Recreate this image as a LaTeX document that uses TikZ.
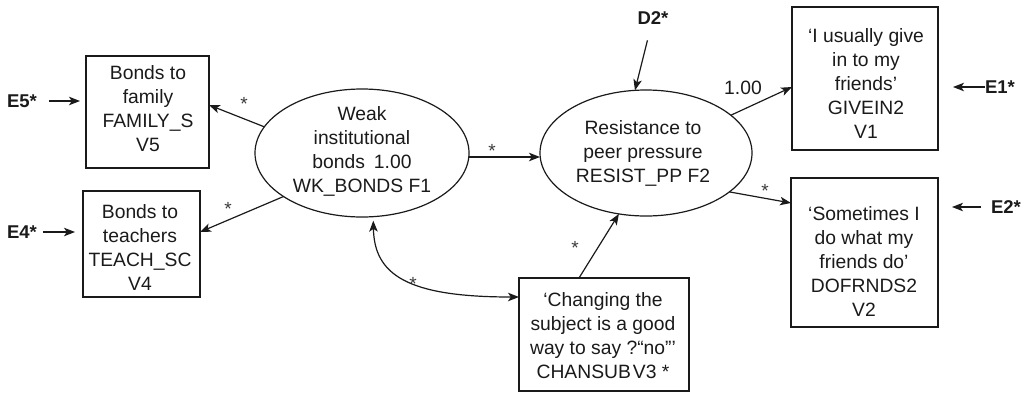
\documentclass[tikz,border=0pt]{standalone}
\usepackage{fontspec}
\setmainfont{Liberation Sans}
\usetikzlibrary{arrows.meta,calc,shapes.geometric}
\definecolor{ink}{HTML}{1A1A1A}
\begin{document}
\begin{tikzpicture}[x=1pt,y=-1pt,
  every node/.style={inner sep=0pt, outer sep=0pt},
  txt/.style={font=\fontsize{19.3}{24}\selectfont, text=ink, align=center},
  errlab/.style={font=\bfseries\fontsize{18.5}{20}\selectfont, text=ink},
  star/.style={font=\fontsize{19}{19}\selectfont, text=ink!85, yshift=-4pt},
  box/.style={draw=ink, line width=1.2pt, rectangle},
  latent/.style={draw=ink, line width=1.2pt, ellipse},
  tip/.style={Stealth[length=11pt,width=8.5pt,inset=2.8pt]},
  arr/.style={draw=ink, line width=1.2pt, -{Stealth[length=11pt,width=8.5pt,inset=2.8pt]}},
  biarr/.style={draw=ink, line width=1.2pt, {Stealth[length=11pt,width=8.5pt,inset=2.8pt]}-{Stealth[length=11pt,width=8.5pt,inset=2.8pt]}}
]
\useasboundingbox (0,0) rectangle (1025,392);

% measured variables
\node[box, minimum width=123pt, minimum height=112pt] (v5) at (147.5,112) {};
\node[txt] (v5t) at (148,109) {Bonds to\\family\\FAMILY\_S\\V5};
\node[box, minimum width=117pt, minimum height=106pt] (v4) at (141.5,244) {};
\node[txt] (v4t) at (140,247) {Bonds to\\teachers\\TEACH\_SC\\V4};
\node[box, minimum width=146pt, minimum height=143pt] (v1) at (865,78.5) {};
\node[txt] (v1t) at (866,84) {‘I usually give\\in to my\\friends’\\GIVEIN2\\V1};
\node[box, minimum width=147pt, minimum height=149pt] (v2) at (864.5,252.5) {};
\node[txt] (v2t) at (864,261.5) {‘Sometimes I\\do what my\\friends do’\\DOFRNDS2\\V2};
\node[box, minimum width=170pt, minimum height=113pt] (v3) at (604,334.5) {};
\node[txt] (v3t) at (603,336) {‘Changing the\\subject is a good\\way to say ?“no”’\\CHANSUB\kern2pt V3 *};

% latent factors
\node[latent, minimum width=214pt, minimum height=128pt] (f1) at (362,153) {};
\node[txt] (f1t) at (362,151.5) {Weak\\institutional\\bonds\hspace{9pt}1.00\\WK\_BONDS F1};
\node[latent, minimum width=212pt, minimum height=126pt] (f2) at (646,153) {};
\node[txt] (f2t) at (643,153.5) {Resistance to\\peer pressure\\RESIST\_PP F2};

% error and disturbance terms
\node[errlab] (e5) at (22,101) {E5*};
\node[errlab] (e4) at (22,232) {E4*};
\node[errlab, anchor=west] (e1) at (985,87) {E1*};
\node[errlab, anchor=west] (e2) at (991,207) {E2*};
\node[errlab] (d2) at (653,18) {D2*};

\draw[arr, shorten <=12pt, shorten >=6pt] (e5.east) -- (e5.east -| v5.west);
\draw[arr, shorten <=6pt, shorten >=8pt] (e4.east) -- (e4.east -| v4.west);
\draw[arr, shorten >=15pt] (e1.west) -- (e1.west -| v1.east);
\draw[arr, shorten <=10pt, shorten >=14pt] (e2.west) -- (e2.west -| v2.east);
\draw[arr, shorten <=23pt] (d2.center) -- (f2.100);

% paths
\draw[arr] (f1.165.8) -- ([yshift=7pt]v5.east);
\draw[arr] (f1.209.7) -- ([yshift=12pt]v4.east);
\draw[arr] ([yshift=-4pt]f1.east) -- ([yshift=-4pt]f2.west);
\draw[arr] (f2.24.3) -- ([yshift=-8.5pt]v1.west);
\draw[arr] (f2.-25) -- ([yshift=49.5pt]v2.west);
\draw[arr] ([xshift=-25pt]v3.north) -- (f2.246);
\draw[biarr, shorten <=4pt] (f1.-80) .. controls +(1,58) and +(-112,0) .. ([yshift=37.5pt]v3.west);

% path coefficients
\node[star] (s1) at (244,100) {*};
\node[star] (s2) at (228,205) {*};
\node[star] (s3) at (492,147) {*};
\node[star] (s4) at (575,244) {*};
\node[star] (s5) at (413,280) {*};
\node[star] (s6) at (765,187) {*};
\node[txt] (c1) at (743,88) {1.00};
\end{tikzpicture}
\end{document}
